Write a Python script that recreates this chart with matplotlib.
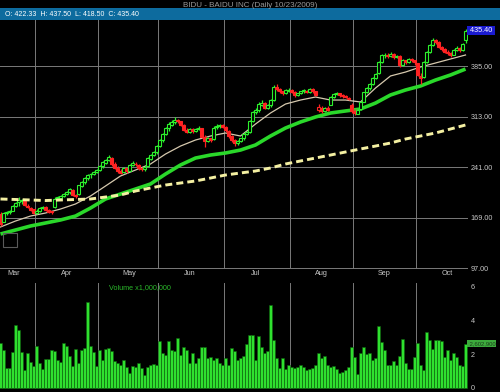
#!/usr/bin/env python

import numpy as np
import pandas as pd
import matplotlib
matplotlib.use('Agg')
import matplotlib.pyplot as plt
from matplotlib.patches import Rectangle

### ------------------- Data -------------------

symbol_title = "BIDU - BAIDU INC (Daily 10/23/2009)"
start_date = '2009-03-16'
end_date = '2009-10-23'
holidays = ['2009-04-10', '2009-05-25', '2009-07-03', '2009-09-07']

opens = [174.0, 163.0, 175.0, 177.5, 179.0, 185.0, 190.5, 193.0, 193.0, 186.0,
         183.0, 180.5, 176.0, 178.0, 182.0, 184.5, 179.5, 178.0, 184.0, 196.5,
         197.0, 199.5, 202.0, 205.0, 208.0, 201.5, 202.0, 214.0, 220.0, 225.0,
         230.5, 231.0, 234.0, 237.0, 242.0, 247.0, 251.0, 254.0, 246.0, 240.0,
         236.0, 233.5, 239.0, 236.0, 244.0, 246.0, 244.0, 239.0, 238.0, 242.0,
         253.0, 258.0, 262.0, 271.0, 279.0, 288.0, 296.0, 301.0, 305.0, 308.5,
         306.0, 301.0, 294.0, 291.0, 295.0, 292.0, 295.5, 296.0, 284.0, 278.0,
         282.0, 281.0, 297.5, 299.0, 301.5, 298.0, 293.0, 285.5, 279.0, 275.0,
         278.0, 282.0, 288.0, 291.0, 307.0, 319.0, 322.0, 330.0, 332.0, 325.0,
         329.0, 337.0, 355.0, 352.0, 349.0, 346.0, 350.0, 351.0, 348.0, 343.5,
         346.0, 349.0, 350.0, 348.0, 352.0, 349.0, 322.0, 325.0, 321.0, 325.0,
         330.0, 341.0, 345.0, 346.0, 343.0, 342.0, 340.0, 330.0, 321.0, 317.0,
         323.0, 334.0, 348.0, 353.0, 360.0, 368.0, 375.0, 391.0, 400.0, 401.0,
         399.0, 402.0, 398.0, 399.0, 386.0, 393.0, 391.0, 395.0, 393.0, 389.0,
         371.0, 369.0, 391.0, 405.0, 415.0, 422.0, 419.0, 412.0, 409.0, 405.0,
         403.0, 401.0, 408.0, 410.0, 408.0, 422.33]
highs = [176.5, 177.0, 178.5, 180.0, 187.0, 191.5, 198.0, 195.0, 194.0, 188.0,
         184.5, 181.0, 180.5, 184.0, 186.0, 185.0, 181.0, 179.0, 198.0, 200.0,
         200.5, 204.0, 207.0, 211.0, 209.5, 203.0, 216.0, 221.0, 227.0, 231.0,
         232.0, 236.0, 238.5, 244.0, 250.0, 253.0, 258.0, 255.0, 248.0, 242.0,
         238.0, 241.0, 240.0, 245.0, 249.0, 248.0, 245.5, 241.0, 242.0, 255.0,
         260.0, 264.0, 272.0, 281.0, 290.0, 298.0, 305.0, 308.0, 312.0, 310.0,
         307.0, 302.0, 296.0, 297.0, 296.0, 297.0, 299.0, 297.0, 286.0, 284.0,
         283.0, 300.0, 302.0, 303.0, 302.5, 299.0, 294.0, 287.0, 281.0, 279.0,
         283.0, 289.0, 293.0, 308.0, 321.0, 325.0, 333.0, 336.0, 333.0, 331.0,
         338.0, 358.0, 359.0, 354.0, 350.0, 352.0, 353.0, 352.0, 349.0, 347.0,
         350.0, 352.0, 351.0, 353.0, 353.0, 350.0, 331.0, 328.0, 327.0, 328.0,
         342.0, 347.0, 348.0, 347.0, 345.0, 344.0, 341.0, 332.0, 323.0, 324.0,
         335.0, 348.0, 355.0, 361.0, 369.0, 375.0, 392.0, 402.0, 404.0, 403.0,
         405.0, 403.0, 401.0, 400.0, 395.0, 394.0, 397.0, 396.0, 394.0, 390.0,
         375.0, 392.0, 407.0, 417.0, 425.0, 424.0, 420.0, 414.0, 411.0, 408.0,
         405.0, 409.0, 413.0, 412.0, 418.0, 437.50]
lows = [157.5, 162.0, 172.0, 174.5, 178.0, 183.5, 186.0, 188.5, 185.0, 182.5,
        178.5, 174.5, 174.0, 177.0, 180.5, 179.0, 176.0, 174.5, 183.0, 194.0,
        195.0, 198.0, 200.5, 203.0, 200.0, 197.5, 201.0, 212.0, 217.0, 222.0,
        226.0, 229.0, 232.0, 235.0, 240.0, 245.0, 249.0, 243.0, 238.0, 233.0,
        231.0, 232.0, 233.0, 235.0, 242.0, 243.0, 237.0, 235.0, 236.0, 241.0,
        251.0, 256.0, 260.0, 269.0, 277.0, 286.0, 293.0, 299.0, 302.0, 304.0,
        299.0, 292.0, 289.0, 290.0, 290.0, 291.0, 294.0, 282.0, 270.0, 276.0,
        276.0, 280.0, 295.0, 297.0, 296.0, 291.0, 283.0, 277.0, 271.0, 273.0,
        276.0, 280.0, 286.0, 290.0, 305.0, 316.0, 320.0, 328.0, 323.0, 324.0,
        327.0, 335.0, 350.0, 347.0, 343.0, 345.0, 348.0, 346.0, 341.0, 342.0,
        345.0, 347.0, 346.0, 347.0, 347.0, 342.0, 320.0, 318.0, 319.0, 321.0,
        329.0, 339.0, 343.0, 341.0, 340.0, 339.0, 336.0, 318.0, 315.0, 316.0,
        322.0, 333.0, 346.0, 351.0, 358.0, 366.0, 374.0, 389.0, 397.0, 396.0,
        398.0, 395.0, 396.0, 384.0, 385.0, 388.0, 390.0, 391.0, 386.0, 371.0,
        360.0, 368.0, 390.0, 403.0, 413.0, 416.0, 410.0, 406.0, 403.0, 401.0,
        398.0, 400.0, 406.0, 405.0, 407.0, 418.50]
closes = [159.7, 175.4, 176.8, 178.3, 185.4, 189.7, 193.9, 194.5, 186.8, 184.0,
          179.7, 175.4, 178.3, 182.5, 184.0, 180.0, 177.5, 176.5, 196.0, 198.2,
          199.0, 202.5, 205.4, 209.6, 201.1, 199.5, 215.3, 219.6, 225.3, 229.6,
          230.5, 233.9, 236.7, 242.4, 248.1, 251.0, 255.3, 245.3, 240.0, 235.3,
          233.0, 239.6, 235.3, 243.9, 247.0, 245.0, 239.6, 238.2, 241.0, 253.8,
          258.1, 262.4, 270.9, 279.5, 288.0, 296.6, 302.3, 305.2, 308.0, 306.6,
          300.9, 293.8, 290.9, 295.2, 292.3, 295.2, 296.6, 283.8, 278.1, 282.4,
          279.5, 297.0, 299.5, 301.0, 298.0, 293.8, 285.2, 279.5, 275.2, 278.1,
          282.4, 288.0, 290.9, 307.0, 319.4, 322.3, 330.8, 332.2, 325.1, 329.4,
          336.5, 355.1, 352.2, 349.4, 346.5, 350.8, 351.5, 347.9, 343.7, 346.5,
          349.4, 350.8, 347.9, 352.2, 349.4, 343.7, 326.5, 320.9, 325.1, 322.3,
          340.8, 345.1, 346.5, 343.7, 342.2, 340.8, 338.0, 320.9, 318.0, 322.3,
          333.7, 347.9, 353.6, 359.3, 367.9, 373.6, 390.7, 400.7, 400.9, 399.3,
          402.1, 397.8, 399.3, 386.4, 393.6, 390.7, 395.0, 393.6, 390.7, 372.2,
          367.9, 390.7, 405.0, 415.0, 422.1, 419.2, 412.1, 409.2, 405.0, 403.0,
          400.0, 407.8, 410.6, 407.8, 416.4, 435.40]
# volume in millions of shares
volumes = [2.66, 2.24, 1.18, 1.20, 2.14, 3.70, 3.40, 2.14, 1.06, 2.06,
           1.55, 1.30, 2.50, 1.50, 1.12, 1.69, 1.69, 2.24, 2.20, 1.65,
           1.55, 2.63, 2.50, 1.88, 1.30, 2.27, 1.45, 2.24, 2.38, 5.08,
           2.45, 2.10, 1.30, 2.24, 1.63, 2.30, 2.38, 2.20, 1.60, 1.45,
           1.37, 1.65, 1.25, 0.86, 1.30, 1.26, 1.45, 1.18, 0.76, 1.25,
           1.37, 1.41, 1.33, 2.78, 2.06, 1.96, 2.78, 2.24, 2.20, 2.94,
           1.96, 2.39, 2.24, 1.49, 2.04, 1.45, 1.75, 2.43, 2.43, 1.75,
           1.80, 1.65, 1.75, 1.45, 1.35, 1.75, 1.35, 2.33, 2.20, 1.65,
           1.75, 1.90, 2.60, 3.12, 3.12, 1.65, 3.06, 2.39, 2.08, 2.20,
           4.88, 2.82, 1.76, 1.16, 1.76, 1.10, 1.37, 1.25, 1.16, 1.25,
           1.37, 1.25, 1.06, 1.10, 1.16, 1.37, 2.08, 1.76, 1.90, 1.37,
           1.25, 1.30, 1.10, 0.90, 0.95, 1.06, 1.25, 2.39, 1.84, 0.84,
           2.08, 2.39, 2.00, 2.04, 1.65, 1.75, 3.65, 2.70, 2.24, 1.37,
           1.37, 1.60, 1.37, 1.90, 2.86, 1.45, 1.10, 1.10, 1.80, 2.63,
           1.37, 1.06, 3.30, 2.80, 2.30, 2.80, 2.80, 2.75, 1.80, 2.24,
           1.65, 2.08, 1.80, 1.37, 1.30, 2.60]

# moving averages every 5 trading days
ma_step = 5
ma_short = [155.5, 164.0, 171.1, 175.4, 181.1, 188.3, 199.7, 213.9, 228.2, 236.7,
            245.3, 259.5, 270.9, 279.5, 285.2, 289.5, 285.2, 302.3, 318.0, 330.8,
            336.5, 340.8, 336.5, 336.5, 333.7, 353.6, 370.8, 376.4, 383.6, 389.3,
            395.0, 400.7]
ma_50 = [145.5, 151.2, 156.9, 161.2, 165.5, 171.1, 182.5, 195.4, 202.5, 209.6,
         216.8, 231.0, 243.9, 253.8, 258.1, 261.0, 265.2, 272.4, 285.2, 296.6,
         305.2, 312.3, 318.0, 320.9, 323.7, 332.2, 343.7, 350.8, 356.5, 365.0,
         372.2, 380.7]
ma_200 = [195.4, 194.7, 194.0, 193.2, 194.0, 194.7, 195.4, 198.2, 201.1, 206.8,
          211.1, 215.3, 218.2, 221.1, 225.3, 229.6, 232.5, 235.3, 239.6, 245.3,
          249.6, 253.8, 258.1, 262.4, 266.7, 270.9, 275.2, 280.9, 285.2, 289.5,
          295.2, 300.9]

price_ticks = [97, 169, 241, 313, 385]
vol_ticks = [0, 2, 4, 6]
last_volume_text = '2,602,900'

### ------------------- Plot -------------------

dates = pd.bdate_range(start_date, end_date)
dates = dates[~dates.isin(pd.to_datetime(holidays))]
o = np.array(opens); h = np.array(highs); l = np.array(lows); c = np.array(closes)
n = len(c)
idx = np.arange(n)

plt.rcParams['font.family'] = ['Liberation Sans', 'DejaVu Sans']

W, H = 500., 392.
fig = plt.figure(figsize=(5, 3.92), dpi=100, facecolor='black')
ax = fig.add_axes([0, 1 - 269/H, 468/W, (269 - 20)/H])
axv = fig.add_axes([0, 1 - 389/H, 468/W, (389 - 283)/H], sharex=ax)

GREEN = '#2cf02c'
RED = '#ff2222'
GRID = '#7a7a7a'
LBL = '#c8c8c8'

for a in (ax, axv):
    a.set_facecolor('black')
    for s in a.spines.values():
        s.set_visible(False)
    a.yaxis.tick_right()
    a.tick_params(length=0, colors=LBL, labelsize=5.2, pad=2)

# month boundaries
month_num = dates.month.values
month_starts = [i for i in range(1, n) if month_num[i] != month_num[i-1]]
for i in month_starts:
    ax.axvline(i - 0.5, color=GRID, lw=0.7, zorder=1)
    axv.axvline(i - 0.5, color=GRID, lw=0.7, zorder=1)
label_pos = [4.5] + [i + 10 for i in month_starts]
label_txt = [dates[0].strftime('%b')] + [dates[i].strftime('%b') for i in month_starts]

### price panel
ax.set_xlim(-1/6., n - 1/6.)
ax.set_ylim(95.6, 450.6)
ax.set_yticks(price_ticks)
ax.set_yticklabels(['%.2f' % p for p in price_ticks])
for p in price_ticks:
    ax.axhline(p, color=GRID, lw=0.7, zorder=1)
ax.set_xticks(label_pos)
ax.set_xticklabels(label_txt)
ax.tick_params(axis='x', pad=0.5)

ma_x = idx[::ma_step]
ax.plot(ma_x, ma_short, color='#d6c9ae', lw=0.9, zorder=3)
ax.plot(ma_x, ma_50, color='#2ad82a', lw=2.6, zorder=3, solid_capstyle='butt')

prev = np.r_[o[0], c[:-1]]
col = np.where(c >= prev, GREEN, RED)
face = np.where(c > o, 'black', col)
ax.vlines(idx, l, h, colors=col, lw=0.9, zorder=4)
ax.bar(idx, np.maximum(np.abs(c - o), 0.8), bottom=np.minimum(o, c), width=0.7,
       color=face, edgecolor=col, lw=0.8, zorder=5)

ax.plot(ma_x, ma_200, color='#f4f0a2', lw=2.1, ls=(0, (2.4, 1.4)), zorder=6)

ax.text(1.0, c[-1], ' %.2f ' % c[-1], transform=ax.get_yaxis_transform(),
        color='white', fontsize=5.2, va='center', ha='left',
        bbox=dict(facecolor='#1a1ad0', edgecolor='none', pad=0.8), zorder=10)

### volume panel
axv.bar(idx, volumes, width=1.0, color='#2fe02f', edgecolor='#0d5e0d', lw=0.4, zorder=2)
axv.set_ylim(-0.06, 6.18)
axv.set_yticks(vol_ticks)
axv.set_yticklabels([str(v) for v in vol_ticks])
axv.tick_params(axis='x', labelbottom=False)
axv.text(0.3, 0.96, 'Volume x1,000,000', transform=axv.transAxes, color='#2ab82a',
         fontsize=5.2, ha='center', va='center')
axv.text(1.0, volumes[-1], ' ' + last_volume_text, transform=axv.get_yaxis_transform(),
         color='#1c3c1c', fontsize=4.2, va='center', ha='left',
         bbox=dict(facecolor='#3caa3c', edgecolor='none', pad=0.6), zorder=10)

### header
fig.text(0.5, 1 - 5.5/H, symbol_title, color='#9a9a9a', fontsize=5.8, ha='center', va='center')
fig.patches.append(Rectangle((0, 1 - 20/H), 1, 12/H, transform=fig.transFigure,
                             facecolor='#0d6b9e', edgecolor='none'))
fig.text(5/W, 1 - 14/H, 'O: %.2f  H: %.2f  L: %.2f  C: %.2f' % (o[-1], h[-1], l[-1], c[-1]),
         color='white', fontsize=5.0, ha='left', va='center')

# small navigation box in the corner
fig.patches.append(Rectangle((3/W, 1 - 247/H), 14/W, 14/H, transform=fig.transFigure,
                             facecolor='none', edgecolor='#5a5a5a', lw=0.8))

fig.savefig('out.png', dpi=100, facecolor='black')
